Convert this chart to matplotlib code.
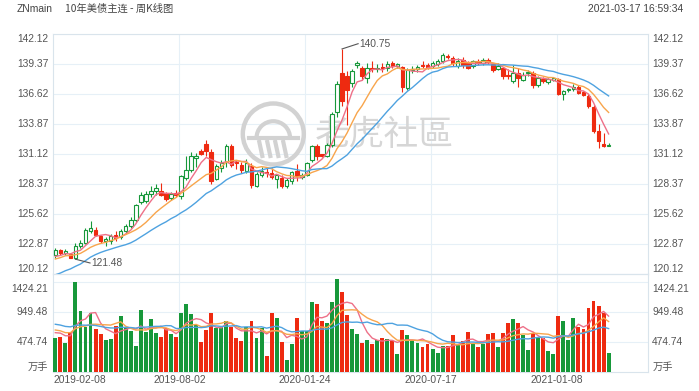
import pandas as pd
import matplotlib
matplotlib.use("Agg")
import matplotlib.pyplot as plt
from matplotlib.patches import Ellipse, Arc

# weekly candles, 2019-02-08 .. 2021-03-19
opens = [121.90, 122.34, 122.05, 121.98, 121.58, 122.65, 122.95, 124.03, 124.18, 123.57,
         123.15, 123.11, 123.72, 123.51, 124.09, 124.48, 125.09, 126.68, 126.78, 127.45,
         127.70, 127.70, 127.50, 127.08, 127.55, 127.30, 128.91, 129.68, 130.75, 131.36,
         132.00, 131.30, 128.82, 129.83, 130.35, 131.88, 130.40, 130.14, 129.53, 129.98,
         128.21, 129.22, 129.45, 129.37, 128.82, 128.90, 128.21, 128.61, 129.53, 129.05,
         129.22, 130.53, 131.88, 131.08, 130.90, 131.97, 134.93, 138.54, 138.29, 137.62,
         139.30, 139.00, 138.08, 139.00, 138.90, 139.10, 138.99, 139.45, 139.20, 139.09,
         137.16, 138.80, 138.90, 139.30, 139.30, 139.20, 139.40, 139.60, 140.10, 139.90,
         139.20, 139.70, 139.45, 139.15, 139.60, 139.50, 139.70, 139.39, 138.90, 138.99,
         138.40, 137.77, 138.54, 137.93, 138.50, 138.54, 137.41, 138.02, 137.71, 137.93,
         137.99, 136.64, 136.95, 137.07, 137.25, 136.77, 136.46, 135.42, 133.19, 132.06,
         131.88]
highs = [122.50, 122.45, 122.40, 122.05, 122.96, 123.25, 124.30, 125.00, 124.40, 123.70,
         123.50, 123.80, 124.10, 124.20, 124.70, 125.30, 126.50, 127.60, 127.70, 128.20,
         128.40, 128.50, 127.60, 127.60, 127.80, 129.20, 130.90, 131.30, 131.20, 131.60,
         132.40, 131.60, 130.20, 130.60, 132.00, 132.00, 130.60, 130.40, 130.70, 130.30,
         129.50, 129.90, 129.90, 129.80, 129.30, 129.20, 128.90, 129.60, 130.20, 129.40,
         130.40, 131.90, 132.00, 131.10, 132.10, 135.00, 137.80, 140.75, 138.70, 138.90,
         139.60, 139.20, 139.50, 139.60, 139.40, 139.50, 139.60, 139.60, 139.50, 139.20,
         139.00, 139.20, 139.30, 139.60, 139.50, 139.60, 139.80, 140.40, 140.30, 140.10,
         139.90, 140.00, 139.60, 139.70, 139.80, 139.90, 139.90, 139.50, 139.50, 139.10,
         138.90, 139.30, 139.00, 138.60, 138.80, 138.70, 138.30, 138.20, 138.10, 138.20,
         138.10, 137.00, 137.20, 137.50, 137.40, 136.90, 136.60, 135.60, 133.90, 133.00,
         132.10]
lows = [121.60, 121.90, 121.90, 121.55, 121.48, 122.50, 122.85, 123.90, 123.60, 122.95,
        122.70, 122.90, 123.10, 123.30, 123.90, 124.30, 124.90, 126.50, 126.60, 127.20,
        127.40, 127.30, 126.80, 126.90, 127.20, 127.00, 128.70, 129.50, 129.90, 131.00,
        130.90, 128.40, 128.70, 129.50, 129.90, 129.90, 129.70, 129.40, 129.40, 128.00,
        128.10, 129.00, 129.00, 128.80, 128.00, 128.00, 128.00, 128.40, 128.60, 128.80,
        129.10, 130.40, 130.60, 130.80, 130.80, 131.80, 134.50, 135.50, 133.80, 137.30,
        139.00, 137.90, 137.60, 138.60, 138.60, 138.60, 138.70, 139.00, 139.00, 136.80,
        137.00, 138.50, 138.60, 139.00, 138.90, 139.00, 139.20, 139.50, 139.80, 139.20,
        139.00, 139.00, 138.90, 139.00, 139.30, 139.30, 139.40, 138.60, 138.80, 138.00,
        138.00, 137.60, 137.30, 137.80, 138.30, 137.20, 137.30, 137.60, 137.50, 137.80,
        136.50, 136.10, 136.80, 136.90, 136.60, 136.40, 135.30, 133.00, 131.70, 131.80,
        131.85]
closes = [122.35, 122.04, 122.20, 121.60, 122.65, 123.00, 124.18, 124.33, 123.72, 123.11,
          123.35, 123.63, 123.42, 124.03, 124.55, 125.09, 126.47, 127.33, 127.48, 127.70,
          128.00, 127.40, 126.95, 127.48, 127.35, 129.07, 129.62, 130.90, 130.95, 131.15,
          131.40, 128.60, 129.98, 130.29, 131.82, 130.14, 130.25, 129.68, 130.29, 128.30,
          129.30, 129.53, 129.35, 129.00, 129.16, 128.21, 128.70, 129.43, 129.13, 129.20,
          130.29, 131.82, 130.96, 130.96, 131.91, 134.81, 137.56, 135.94, 137.01, 138.69,
          139.45, 138.23, 138.99, 138.90, 139.00, 139.00, 139.39, 139.21, 139.36, 137.25,
          138.84, 138.90, 139.09, 139.15, 139.10, 139.45, 139.60, 140.22, 140.00, 139.45,
          139.67, 139.30, 139.00, 139.60, 139.50, 139.70, 139.55, 138.84, 139.15, 138.23,
          138.25, 138.54, 138.08, 138.38, 138.60, 137.47, 138.08, 137.77, 137.99, 138.08,
          136.61, 136.92, 137.10, 137.30, 136.70, 136.49, 135.48, 133.19, 132.27, 131.88,
          131.97]
# 万手
volumes = [538, 564, 469, 643, 1424, 970, 712, 933, 685, 601,
           511, 522, 738, 896, 712, 654, 416, 986, 638, 838,
           627, 559, 706, 601, 564, 933, 1076, 922, 749, 485,
           670, 944, 706, 712, 817, 712, 538, 501, 712, 817,
           548, 696, 264, 944, 855, 485, 195, 448, 855, 650,
           654, 1118, 1076, 812, 786, 1107, 1470, 1276, 907, 680,
           606, 459, 511, 448, 511, 538, 527, 501, 285, 670,
           590, 511, 459, 406, 448, 364, 311, 416, 422, 590,
           448, 496, 633, 459, 395, 448, 601, 617, 395, 617,
           786, 838, 786, 590, 353, 617, 548, 548, 337, 290,
           896, 817, 511, 865, 712, 680, 1013, 1128, 1049, 944,
           311]
# weeks before the window, only used to seed the moving averages
prior_closes = [118.9, 117.9, 118.3, 117.9, 118.8, 117.9, 118.0, 119.0, 119.2, 120.1,
                120.8, 120.5, 121.3, 122.0, 121.7, 121.6, 121.4, 121.7, 121.6]
prior_volumes = [820, 900, 780, 950, 870, 760, 880, 830, 900, 820,
                 690, 760, 650, 780, 675, 600, 680, 640, 677]

date_labels = ["2019-02-08", "2019-08-02", "2020-01-24", "2020-07-17", "2021-01-08"]
date_index = [0, 25, 50, 75, 100]
price_ticks = [120.12, 122.87, 125.62, 128.37, 131.12, 133.87, 136.62, 139.37, 142.12]
vol_ticks = [474.74, 949.48, 1424.21]
ma_windows = [5, 10, 20]

RED = "#ee2a10"
GREEN = "#17983a"
MA_COLORS = ["#ee7088", "#f8a54c", "#4ea2e0"]
GRID = "#e6f0f7"
EDGE = "#d9e4ec"
LABEL = "#555555"

plt.rcParams["font.family"] = ["Liberation Sans", "Noto Sans CJK SC", "DejaVu Sans"]
FS = 7.4

W, H = 699, 391
fig = plt.figure(figsize=(W / 100, H / 100), dpi=100)
ax = fig.add_axes([53 / W, 1 - 274 / H, 595 / W, 240 / H])
axv = fig.add_axes([53 / W, 1 - 372.3 / H, 595 / W, 98.3 / H])

n = len(closes)
xs = list(range(n))
up = [c >= o for o, c in zip(opens, closes)]

# candles
for i in xs:
    col = GREEN if up[i] else RED
    ax.vlines(i, lows[i], highs[i], color=col, lw=0.8, zorder=2)
    lo = min(opens[i], closes[i])
    h = max(abs(closes[i] - opens[i]), 0.05)
    ax.bar(i, h, bottom=lo, width=0.7, color="white" if up[i] else col,
           edgecolor=col, linewidth=0.8, zorder=3)

close_s = pd.Series(prior_closes + closes)
vol_s = pd.Series(prior_volumes + volumes)
k = len(prior_closes)
for w, c in zip(ma_windows, MA_COLORS):
    ax.plot(xs, close_s.rolling(w).mean().iloc[k:].values, color=c, lw=1.0, zorder=4)
    axv.plot(xs, vol_s.rolling(w).mean().iloc[k:].values, color=c, lw=1.0, zorder=4)

axv.bar(xs, volumes, width=0.78, color=[GREEN if u else RED for u in up], zorder=3)

# high / low markers
ax.plot([57, 60.2], [140.75, 141.23], color="#555555", lw=0.8, zorder=5)
ax.text(60.4, 141.23, "140.75", fontsize=FS, color=LABEL, va="center", ha="left", zorder=5)
ax.plot([4, 6.9], [121.48, 121.13], color="#555555", lw=0.8, zorder=5)
ax.text(7.1, 121.13, "121.48", fontsize=FS, color=LABEL, va="center", ha="left", zorder=5)

xmin, xmax = -0.46, 117.83
grid_x = [d - 0.33 for d in date_index[1:]]
for a in (ax, axv):
    a.set_xlim(xmin, xmax)
    a.set_facecolor("none")
    a.set_xticks([])
    a.set_yticks([])
    for s in a.spines.values():
        s.set_color(EDGE)
        s.set_linewidth(0.8)
    for gx in grid_x:
        a.axvline(gx, color=GRID, lw=0.8, zorder=0)

ax.set_ylim(price_ticks[0], price_ticks[-1])
axv.set_ylim(0, 1555)
for t in price_ticks:
    ax.axhline(t, color=GRID, lw=0.8, zorder=0)
for t in vol_ticks:
    axv.axhline(t, color=GRID, lw=0.8, zorder=0)

# axis labels on both sides
tr = ax.get_yaxis_transform()
trv = axv.get_yaxis_transform()
for t in price_ticks:
    va = "top" if t == price_ticks[-1] else ("bottom" if t == price_ticks[0] else "center")
    ax.text(-0.008, t, f"{t:.2f}", transform=tr, ha="right", va=va, fontsize=FS, color=LABEL)
    ax.text(1.007, t, f"{t:.2f}", transform=tr, ha="left", va=va, fontsize=FS, color=LABEL)
for t in vol_ticks:
    yy = t - 110 if t == vol_ticks[-1] else t
    axv.text(-0.008, yy, f"{t:.2f}", transform=trv, ha="right", va="center", fontsize=FS, color=LABEL)
    axv.text(1.007, yy, f"{t:.2f}", transform=trv, ha="left", va="center", fontsize=FS, color=LABEL)
axv.text(-0.008, 0, "万手", transform=trv, ha="right", va="bottom", fontsize=FS, color=LABEL)
axv.text(1.007, 0, "万手", transform=trv, ha="left", va="bottom", fontsize=FS, color=LABEL)

trx = axv.get_xaxis_transform()
for d, lab in zip(date_index, date_labels):
    if d == 0:
        axv.text(xmin, -0.08, lab, transform=trx, ha="left", va="center", fontsize=FS, color=LABEL)
    else:
        axv.text(d - 0.33, -0.08, lab, transform=trx, ha="center", va="center", fontsize=FS, color=LABEL)

# watermark
ft = fig.transFigure
cx, cy, r = 273.3 / W, 1 - 134 / H, 30.5
ax.add_patch(Ellipse((cx, cy), 2 * r / W, 2 * r / H, transform=ft, fill=False,
                     ec="#d2d2d2", lw=3.2, zorder=0.5, clip_on=False))
ax.add_patch(Arc((cx, cy - 4 / H), 1.1 * r / W, 1.1 * r / H, theta1=0, theta2=180,
                 transform=ft, ec="#d2d2d2", lw=3.0, zorder=0.5, clip_on=False))
ax.plot([cx - 0.8 * r / W, cx + 0.8 * r / W], [cy - 4 / H, cy - 4 / H], transform=ft,
        color="#d2d2d2", lw=3.0, zorder=0.5, clip_on=False)
for dx in (-14, -6, 2, 10):
    ax.plot([cx + dx / W, cx + (dx + 3) / W], [cy - 8 / H, cy - 22 / H], transform=ft,
            color="#d2d2d2", lw=3.0, zorder=0.5, clip_on=False)
ax.text(315 / W, 1 - 136 / H, "老虎社區", transform=ft, fontsize=25, color="#d6d6d6",
        family=["Noto Sans CJK TC", "DejaVu Sans"], ha="left", va="center", zorder=0.5)

# header
fig.text(16.7 / W, 1 - 8.5 / H, "ZNmain", fontsize=FS, color="#444444", va="center")
fig.text(65 / W, 1 - 8.5 / H, "10年美债主连 - 周K线图", fontsize=FS, color="#444444", va="center",
         family=["Noto Sans CJK SC", "DejaVu Sans"])
fig.text(683 / W, 1 - 8.5 / H, "2021-03-17 16:59:34", fontsize=FS, color="#444444",
         va="center", ha="right")

fig.savefig("out.png", dpi=100, facecolor="white")
